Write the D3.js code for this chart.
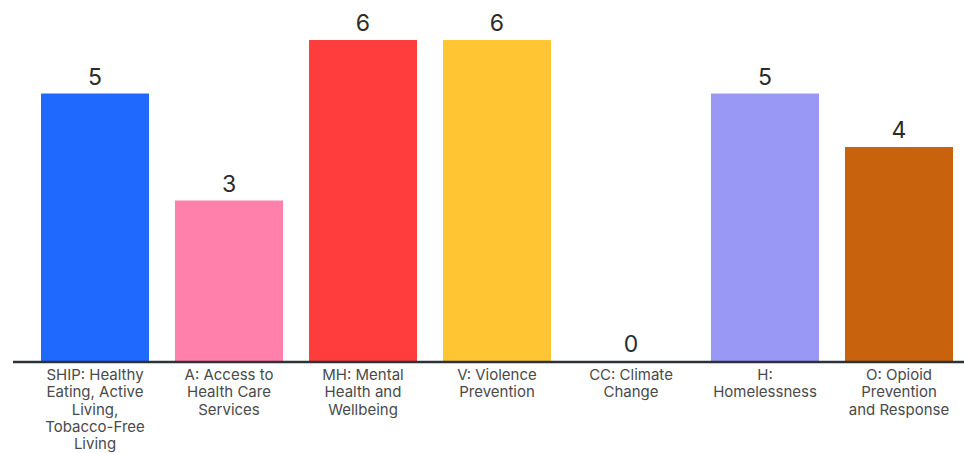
<!DOCTYPE html>
<html><head><meta charset="utf-8">
<script src="https://cdn.jsdelivr.net/npm/d3@7"></script>
<style>body{margin:0;background:#fff}svg{display:block}</style>
</head><body><svg id="c" width="964" height="453"></svg>
<script>
const categories = [
  ["SHIP: Healthy","Eating, Active","Living,","Tobacco-Free","Living"],
  ["A: Access to","Health Care","Services"],
  ["MH: Mental","Health and","Wellbeing"],
  ["V: Violence","Prevention"],
  ["CC: Climate","Change"],
  ["H:","Homelessness"],
  ["O: Opioid","Prevention","and Response"]
];
const values = [5, 3, 6, 6, 0, 5, 4];
const colors = ["#1f69ff", "#ff80aa", "#ff3d3d", "#ffc533", "#cccccc", "#9999f5", "#c8620c"];

const svg = d3.select("#c");
const idx = d3.range(values.length);
const x = d3.scaleBand().domain(idx).range([28, 966]).paddingInner(26/134).paddingOuter(13/134);
const y = d3.scaleLinear().domain([0, 6]).range([361, 40]);

svg.selectAll("rect.bar").data(idx).join("rect").attr("class","bar")
  .attr("x", i => x(i)).attr("width", x.bandwidth())
  .attr("y", i => y(values[i])).attr("height", i => y(0) - y(values[i]))
  .attr("fill", i => colors[i]);

svg.append("line").attr("x1", 13).attr("x2", 964).attr("y1", y(0)+1).attr("y2", y(0)+1)
  .attr("stroke", "#2d3138").attr("stroke-width", 2.5);

svg.selectAll("text.val").data(idx).join("text").attr("class","val")
  .attr("x", i => x(i) + x.bandwidth()/2).attr("y", i => y(values[i]) - 9)
  .attr("text-anchor","middle").attr("font-family","Inter, 'Open Sans', sans-serif")
  .attr("font-size", 23).attr("fill","#2b2b2b").text(i => values[i]);

const lab = svg.selectAll("text.lab").data(idx).join("text").attr("class","lab")
  .attr("text-anchor","middle").attr("font-family","Inter, 'Open Sans', sans-serif")
  .attr("font-size", 15).attr("fill","#4a4a4a");
lab.each(function(i){
  const t = d3.select(this);
  categories[i].forEach((s, k) => {
    t.append("tspan").attr("x", x(i) + x.bandwidth()/2).attr("y", 380 + k*17.3).text(s);
  });
});
</script></body></html>
